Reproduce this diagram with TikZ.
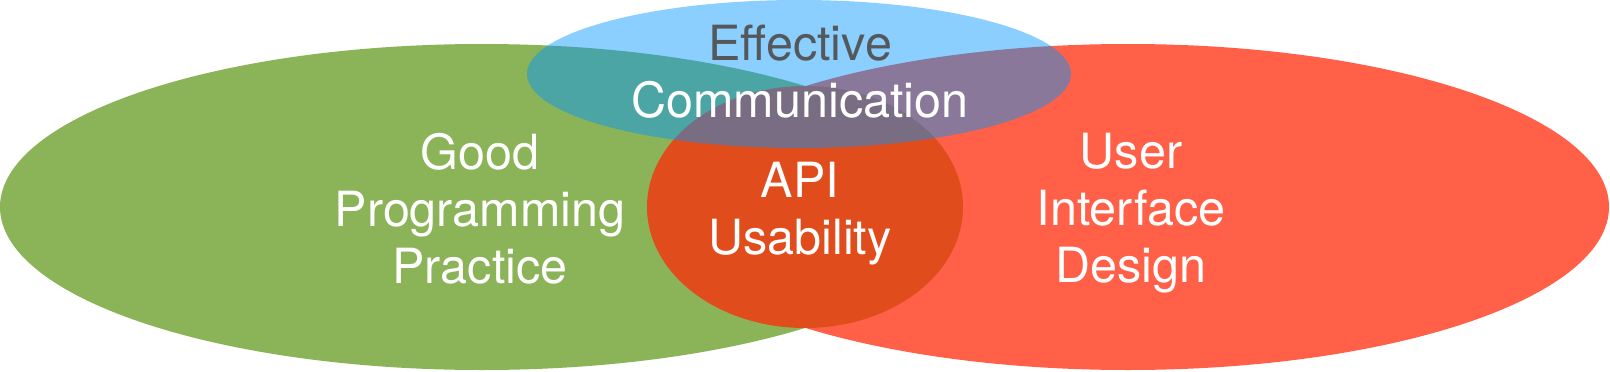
\documentclass[tikz,border=0pt]{standalone}
\usepackage{fontspec}
\setmainfont{TeX Gyre Heros}
\definecolor{gppgreen}{RGB}{139,179,87}
\definecolor{uired}{RGB}{255,96,71}
\definecolor{apiorange}{RGB}{224,76,27}
\definecolor{ecblue}{RGB}{0,150,255}
\definecolor{ectext}{RGB}{85,88,90}
\begin{document}
\begin{tikzpicture}[x=1pt,y=-1pt,
  lbl/.style={font=\fontsize{48.5}{57}\selectfont, text=white, inner sep=0pt, anchor=base}]
\useasboundingbox (0,0) rectangle (1610,372);
% sets
\fill[gppgreen] (482,207) ellipse [x radius=482pt, y radius=163pt];
\fill[uired] (1128,207) ellipse [x radius=481pt, y radius=163pt];
\fill[apiorange] (805,207) ellipse [x radius=158pt, y radius=121pt];
\fill[ecblue, fill opacity=0.46] (799,74) ellipse [x radius=272pt, y radius=74pt];
% labels
\node[lbl, text=ectext] (ec1) at (800,60) {Effective};
\node[lbl] (ec2) at (800,117) {Communication};
\node[lbl] (gp1) at (480,169) {Good};
\node[lbl] (gp2) at (480,226) {Programming};
\node[lbl] (gp3) at (480,283) {Practice};
\node[lbl] (api1) at (800,197) {API};
\node[lbl] (api2) at (800,254) {Usability};
\node[lbl] (ui1) at (1131,168) {User};
\node[lbl] (ui2) at (1131,225) {Interface};
\node[lbl] (ui3) at (1131,282) {Design};
\end{tikzpicture}
\end{document}
